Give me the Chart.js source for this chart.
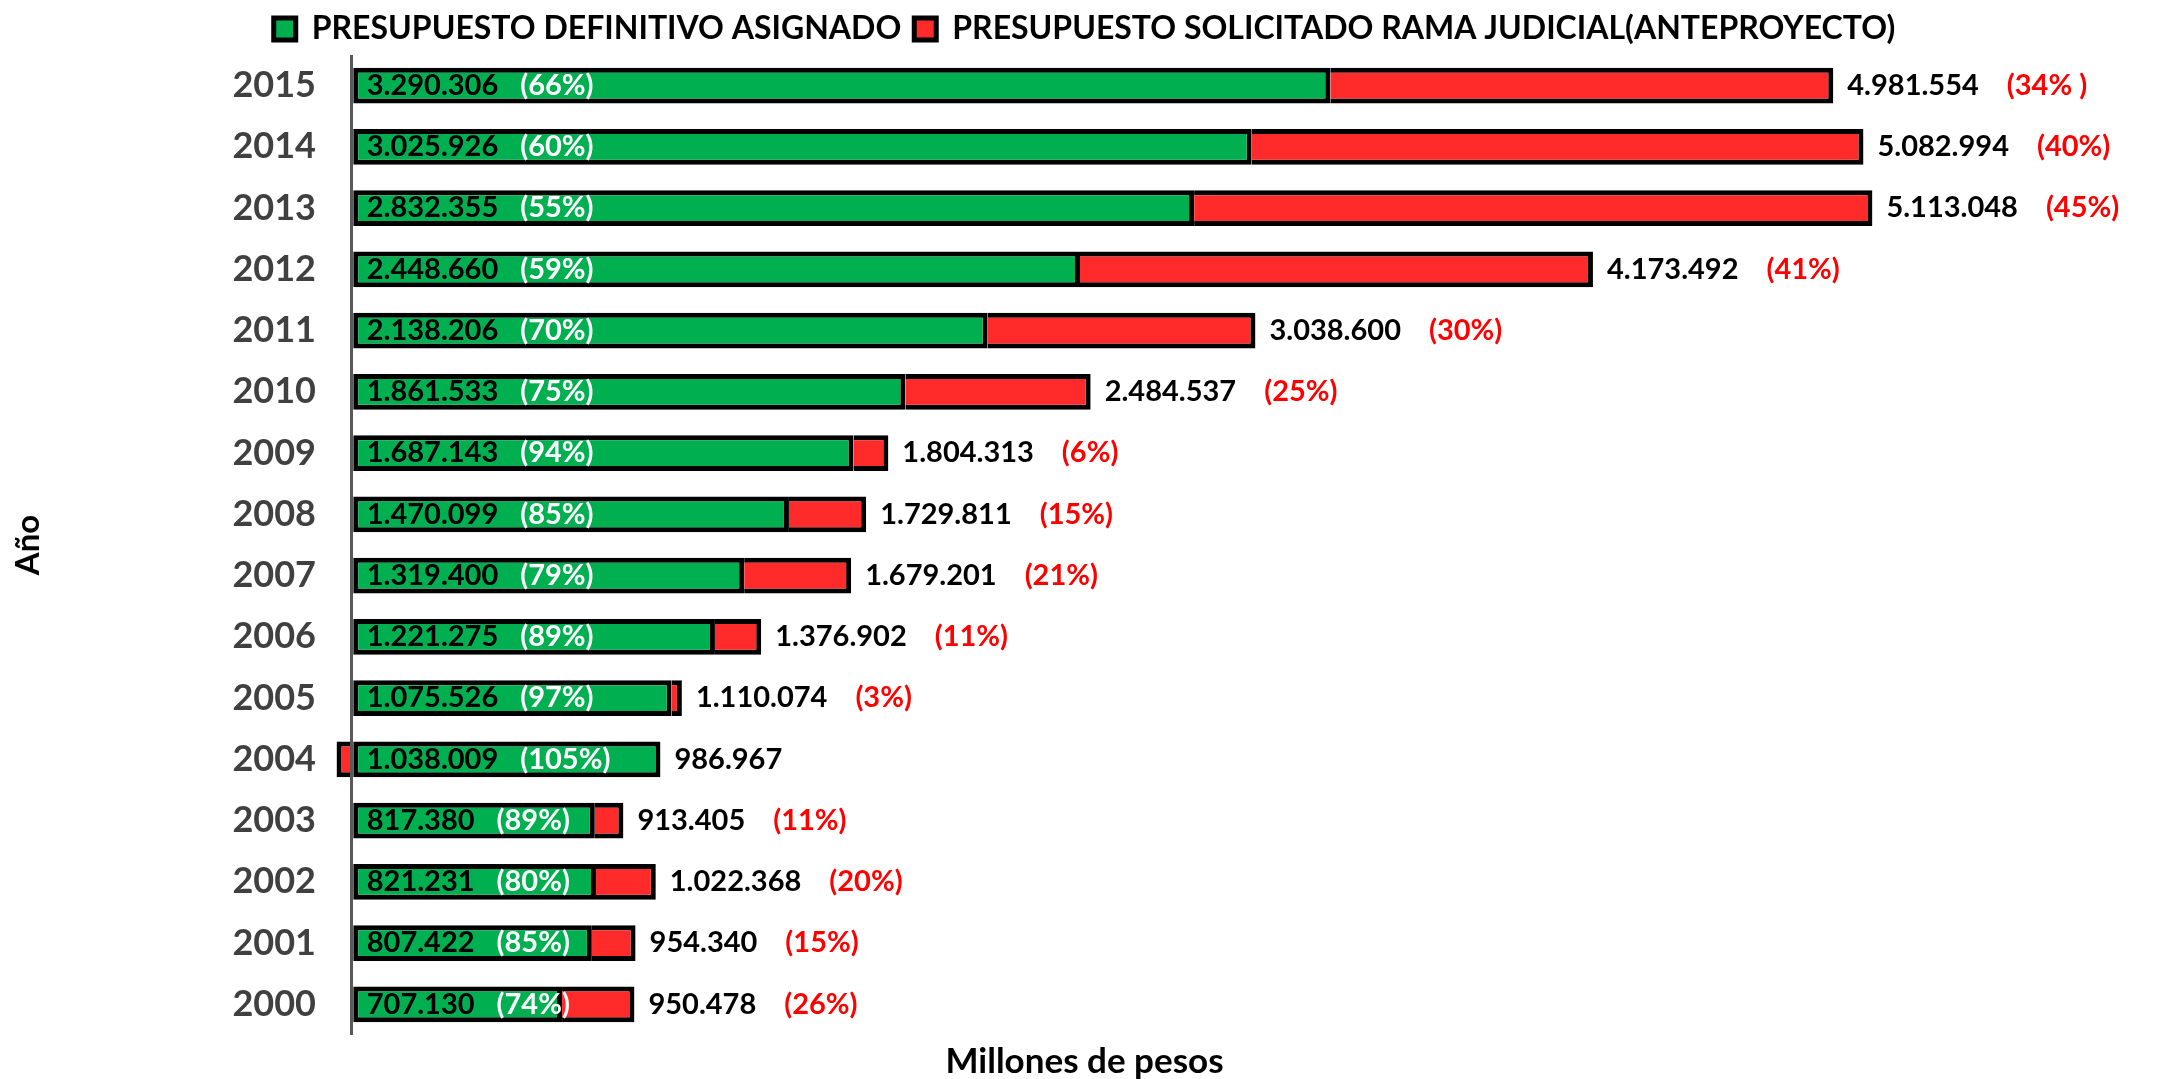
<!DOCTYPE html>
<html>
<head>
<meta charset="utf-8">
<script src="https://cdn.jsdelivr.net/npm/chart.js@4.4.1/dist/chart.umd.min.js"></script>
<style>
html,body{margin:0;padding:0;background:#fff;overflow:hidden}
#wrap{width:2157px;height:1079px;position:relative}
</style>
</head>
<body>
<div id="wrap"><canvas id="c"></canvas></div>
<script>
// ---- data (chronological) ----
const years = ['2000','2001','2002','2003','2004','2005','2006','2007','2008','2009','2010','2011','2012','2013','2014','2015'];
const assigned = [707130, 807422, 821231, 817380, 1038009, 1075526, 1221275, 1319400, 1470099, 1687143, 1861533, 2138206, 2448660, 2832355, 3025926, 3290306];
const requested = [950478, 954340, 1022368, 913405, 986967, 1110074, 1376902, 1679201, 1729811, 1804313, 2484537, 3038600, 4173492, 5113048, 5082994, 4981554];
const assignedPctLabels = ['(74%)','(85%)','(80%)','(89%)','(105%)','(97%)','(89%)','(79%)','(85%)','(94%)','(75%)','(70%)','(59%)','(55%)','(60%)','(66%)'];
const gapPctLabels = ['(26%)','(15%)','(20%)','(11%)',null,'(3%)','(11%)','(21%)','(15%)','(6%)','(25%)','(30%)','(41%)','(45%)','(40%)','(34% )'];
const seriesNames = ['PRESUPUESTO DEFINITIVO ASIGNADO','PRESUPUESTO SOLICITADO RAMA JUDICIAL(ANTEPROYECTO)'];
const xTitle = 'Millones de pesos';
const yTitle = 'Año';

const difference = requested.map((r, i) => r - assigned[i]);

const FAMILY = 'Lato, "Liberation Sans", Arial, sans-serif';
Chart.defaults.font.family = FAMILY;

function fmt(n) {
  return String(n).replace(/\B(?=(\d{3})+(?!\d))/g, '.');
}

const barLabels = {
  id: 'barLabels',
  afterDatasetsDraw(chart) {
    const {ctx} = chart;
    const x = chart.scales.x;
    const meta = chart.getDatasetMeta(0);
    const x0 = x.getPixelForValue(0);
    ctx.save();
    ctx.textBaseline = 'middle';
    ctx.textAlign = 'left';
    ctx.font = '700 29px ' + FAMILY;
    meta.data.forEach((el, i) => {
      const y = el.y;
      const vTxt = fmt(assigned[i]);
      let px = x0 + 15;
      ctx.fillStyle = '#000';
      ctx.fillText(vTxt, px, y);
      px += ctx.measureText(vTxt).width + 22;
      ctx.fillStyle = '#fff';
      ctx.fillText(assignedPctLabels[i], px, y);

      const end = x.getPixelForValue(Math.max(assigned[i], requested[i]));
      const tTxt = fmt(requested[i]);
      let tx = end + 14;
      ctx.fillStyle = '#000';
      ctx.fillText(tTxt, tx, y);
      if (gapPctLabels[i]) {
        tx += ctx.measureText(tTxt).width + 28;
        ctx.fillStyle = '#ff0000';
        ctx.fillText(gapPctLabels[i], tx, y);
      }
    });
    ctx.restore();
  }
};

new Chart(document.getElementById('c'), {
  type: 'bar',
  data: {
    labels: years,
    datasets: [
      {label: seriesNames[0], data: assigned, backgroundColor: '#00b050', borderColor: '#000', borderWidth: 5, borderSkipped: false},
      {label: seriesNames[1], data: difference, backgroundColor: '#ff2a2a', borderColor: '#000', borderWidth: 5, borderSkipped: 'start'}
    ]
  },
  options: {
    indexAxis: 'y',
    responsive: true,
    maintainAspectRatio: false,
    animation: false,
    layout: {padding: {left: 12, right: 0, top: 0, bottom: 0}},
    datasets: {bar: {categoryPercentage: 1, barPercentage: 0.58}},
    scales: {
      x: {
        stacked: true,
        min: -100000,
        max: 6070000,
        ticks: {display: false},
        border: {display: false},
        grid: {color: '#595959', lineWidth: 3, drawTicks: false},
        afterBuildTicks: s => { s.ticks = [{value: 0}]; }
      },
      y: {
        stacked: true,
        reverse: true,
        grid: {display: false, drawTicks: false},
        border: {display: false},
        ticks: {color: '#404040', font: {size: 36, weight: 'bold'}, padding: 6},
        title: {display: true, text: yTitle, color: '#000', font: {size: 33, weight: 'bold', lineHeight: 1}, padding: 0},
        afterFit: s => { s.width = 310; }
      }
    },
    plugins: {
      legend: {
        position: 'top',
        labels: {boxWidth: 22, boxHeight: 22, padding: 13, color: '#000', font: {size: 32, weight: 'bold'}}
      },
      title: {
        display: true,
        position: 'bottom',
        text: xTitle,
        color: '#000',
        font: {size: 35, weight: 'bold', lineHeight: 1},
        padding: {top: 9, bottom: 0}
      },
      tooltip: {enabled: false}
    }
  },
  plugins: [barLabels]
});
</script>
</body>
</html>
